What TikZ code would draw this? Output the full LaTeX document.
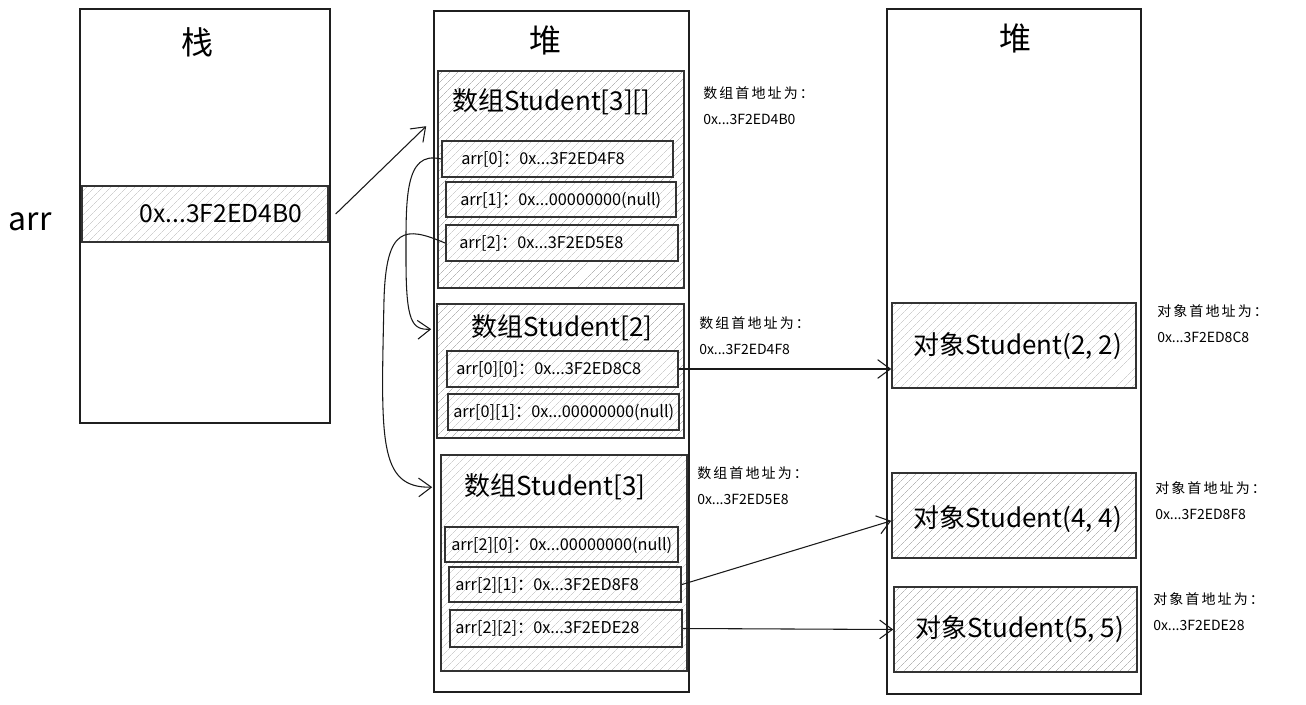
\documentclass[tikz,border=0pt]{standalone}
\usepackage{fontspec}
\setmainfont{Noto Sans CJK SC}
\usetikzlibrary{fit,patterns.meta,arrows.meta}
\tikzset{
  outer/.style={draw=black!88,line width=0.9pt,inner sep=0pt},
  hatch/.style={draw=black!80,line width=1.2pt,inner sep=0pt,
    preaction={fill=white},
    pattern={Lines[angle=45,distance=4pt,line width=0.35pt]},pattern color=black!28},
  cell/.style={hatch,line width=1.5pt},
  big/.style={font=\fontsize{24}{28}\selectfont},
  title/.style={font=\fontsize{19.5}{23}\selectfont},
  celltext/.style={anchor=west,inner sep=0pt,font=\fontsize{12.2}{14}\selectfont},
  note/.style={anchor=north west,inner sep=0pt,align=left,font=\fontsize{10.5}{19.5}\selectfont},
  arrow/.style={-{Straight Barb[length=9.5pt,width=14pt]},line width=0.8pt,black!90},
}
\begin{document}
\begin{tikzpicture}[x=0.75pt,y=-0.75pt]
\useasboundingbox (0,0) rectangle (1306,705);

% stack
\node[outer,fit={(80,9)(330,423)}] (stack) {};
\node[big] (stacktitle) at (197,42) {栈};
\node[cell,fit={(82,186)(328,242)}] (scell) {};
\node[font=\fontsize{18.5}{22}\selectfont] (scelltext) at (221,214) {0x...3F2ED4B0};
\node[big] (arrlabel) at (30,222) {arr};

% heap 1
\node[outer,fit={(434,11)(689,692)}] (heap1) {};
\node[big] (heap1title) at (545,40) {堆};

\node[hatch,fit={(438,71)(684,288)}] (A1) {};
\node[title,anchor=west,inner sep=0pt] (A1t) at (452,102) {数组Student[3][]};
\node[cell,fit={(442,141)(673,177)}] (a0) {};
\node[celltext] (a0t) at (461,159) {arr[0]：0x...3F2ED4F8};
\node[cell,fit={(446,182)(676,217)}] (a1) {};
\node[celltext] (a1t) at (460,200) {arr[1]：0x...00000000(null)};
\node[cell,fit={(446,225)(678,261)}] (a2) {};
\node[celltext] (a2t) at (459,243) {arr[2]：0x...3F2ED5E8};

\node[hatch,fit={(437,304)(684,438)}] (A2) {};
\node[title] (A2t) at (562,328) {数组Student[2]};
\node[cell,fit={(447,351)(678,387)}] (b0) {};
\node[celltext] (b0t) at (456,369) {arr[0][0]：0x...3F2ED8C8};
\node[cell,fit={(448,394)(679,430)}] (b1) {};
\node[celltext] (b1t) at (453,412) {arr[0][1]：0x...00000000(null)};

\node[hatch,fit={(441,455)(687,671)}] (A3) {};
\node[title] (A3t) at (555,487) {数组Student[3]};
\node[cell,fit={(445,527)(678,562)}] (c0) {};
\node[celltext] (c0t) at (451,545) {arr[2][0]：0x...00000000(null)};
\node[cell,fit={(449,567)(681,602)}] (c1) {};
\node[celltext] (c1t) at (455,585) {arr[2][1]：0x...3F2ED8F8};
\node[cell,fit={(450,610)(682,647)}] (c2) {};
\node[celltext] (c2t) at (455,628) {arr[2][2]：0x...3F2EDE28};

\node[note] (n1) at (703,86) {\addfontfeature{LetterSpace=15}数组首地址为：\\0x...3F2ED4B0};
\node[note] (n2) at (699,316) {\addfontfeature{LetterSpace=15}数组首地址为：\\0x...3F2ED4F8};
\node[note] (n3) at (697,466) {\addfontfeature{LetterSpace=15}数组首地址为：\\0x...3F2ED5E8};

% heap 2
\node[outer,fit={(887,9)(1141,694)}] (heap2) {};
\node[big] (heap2title) at (1015,38) {堆};
\node[hatch,fit={(892,303)(1136,388)}] (o1) {};
\node[title] (o1t) at (1018,346) {对象Student(2, 2)};
\node[hatch,fit={(892,473)(1136,558)}] (o2) {};
\node[title] (o2t) at (1018,519) {对象Student(4, 4)};
\node[hatch,fit={(894,587)(1137,672)}] (o3) {};
\node[title] (o3t) at (1020,629) {对象Student(5, 5)};

\node[note] (n4) at (1157,304) {\addfontfeature{LetterSpace=15}对象首地址为：\\0x...3F2ED8C8};
\node[note] (n5) at (1155,481) {\addfontfeature{LetterSpace=15}对象首地址为：\\0x...3F2ED8F8};
\node[note] (n6) at (1153,592) {\addfontfeature{LetterSpace=15}对象首地址为：\\0x...3F2EDE28};

% arrows
\draw[arrow] ([xshift=5]scell.east) -- ([shift={(-11,56)}]A1.north west);
\draw[arrow] (a0.west) .. controls (404,150) and (406,200) .. (406,260)
  .. controls (406,322) and (412,330) .. ([shift={(-5,26)}]A2.north west);
\draw[arrow] (a2.west) .. controls (405,226) and (386,226) .. (384,300)
  .. controls (381,440) and (378,488) .. ([shift={(-8,33)}]A3.north west);
\draw[arrow] (b0.east) -- (b0.east -| o1.west);
\draw[arrow] (c1.east) -- ([yshift=-4]o2.west);
\draw[arrow] (c2.east) -- (o3.west);
\end{tikzpicture}
\end{document}
